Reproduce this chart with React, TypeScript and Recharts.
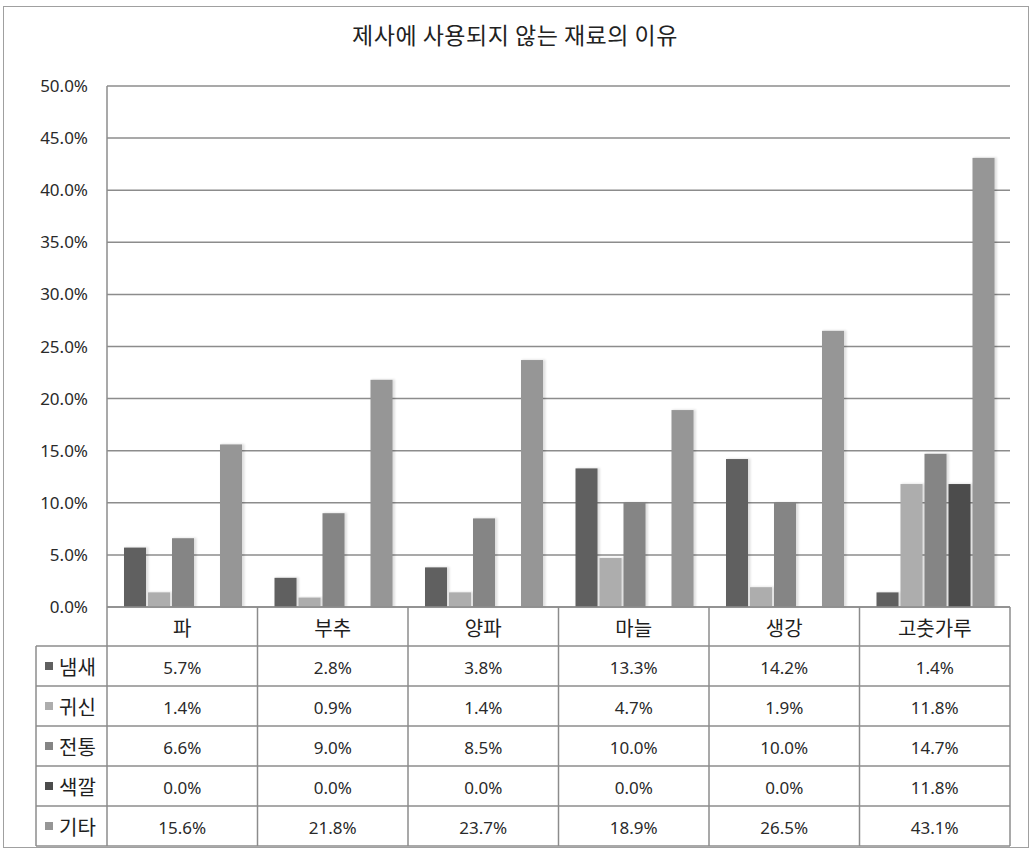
import React from 'react';
import { BarChart, Bar, XAxis, YAxis, CartesianGrid } from 'recharts';

const categories = ['파', '부추', '양파', '마늘', '생강', '고춧가루'];
const seriesNames = ['냄새', '귀신', '전통', '색깔', '기타'];
const smell = [5.7, 2.8, 3.8, 13.3, 14.2, 1.4];
const ghost = [1.4, 0.9, 1.4, 4.7, 1.9, 11.8];
const tradition = [6.6, 9.0, 8.5, 10.0, 10.0, 14.7];
const colour = [0.0, 0.0, 0.0, 0.0, 0.0, 11.8];
const other = [15.6, 21.8, 23.7, 18.9, 26.5, 43.1];
const yTicks = [0, 5, 10, 15, 20, 25, 30, 35, 40, 45, 50];
const seriesColors = ['#606060', '#adadad', '#858585', '#4c4c4c', '#969696'];
const title = '제사에 사용되지 않는 재료의 이유';

const seriesValues = [smell, ghost, tradition, colour, other];

const data = categories.map((c, i) => {
  const row: Record<string, string | number> = { name: c };
  seriesNames.forEach((s, k) => {
    row[s] = seriesValues[k][i];
  });
  return row;
});

const W = 1033;
const H = 850;
const PLOT_LEFT = 107;
const PLOT_RIGHT = 1010;
const PLOT_TOP = 86;
const PLOT_BOTTOM = 607;
const CAT_ROW_H = 39;
const ROW_H = 40;
const LEGEND_LEFT = 36;
const LINE = '#8c8c8c';
const KFONT = '"Noto Sans CJK KR", "Noto Sans", sans-serif';
const NFONT = '"Noto Sans", "DejaVu Sans", sans-serif';

const fmt = (v: number) => `${v.toFixed(1)}%`;

const CategoryTick = (props: any) => {
  const { x, y, payload } = props;
  const index: number = props.index ?? payload?.index ?? 0;
  const bw = (PLOT_RIGHT - PLOT_LEFT) / categories.length;
  const left = x - bw / 2;
  const right = x + bw / 2;
  const catBottom = y + CAT_ROW_H;
  const tableBottom = catBottom + ROW_H * seriesNames.length;
  const tableRight = left + bw * categories.length;
  return (
    <g>
      <text
        x={x}
        y={y + CAT_ROW_H / 2 + 1}
        textAnchor="middle"
        dominantBaseline="central"
        fontSize={20}
        fontFamily={KFONT}
        fill="#1e1e1e"
      >
        {payload.value}
      </text>
      {seriesNames.map((s, k) => (
        <text
          key={s}
          x={x}
          y={catBottom + ROW_H * (k + 0.5) + 1}
          textAnchor="middle"
          dominantBaseline="central"
          fontSize={17}
          fontFamily={NFONT}
          fill="#2a2a2a"
        >
          {fmt(seriesValues[k][index])}
        </text>
      ))}
      <line x1={right} x2={right} y1={y} y2={tableBottom} stroke={LINE} strokeWidth={1.5} />
      {index === 0 && (
        <g>
          <line x1={left} x2={left} y1={y} y2={tableBottom} stroke={LINE} strokeWidth={1.5} />
          <line x1={LEGEND_LEFT} x2={LEGEND_LEFT} y1={catBottom} y2={tableBottom} stroke={LINE} strokeWidth={1.5} />
          {Array.from({ length: seriesNames.length + 1 }).map((_, k) => (
            <line
              key={k}
              x1={LEGEND_LEFT}
              x2={tableRight}
              y1={catBottom + ROW_H * k}
              y2={catBottom + ROW_H * k}
              stroke={LINE}
              strokeWidth={1.5}
            />
          ))}
          {seriesNames.map((s, k) => (
            <g key={s}>
              <rect
                x={LEGEND_LEFT + 9}
                y={catBottom + ROW_H * (k + 0.5) - 4}
                width={8}
                height={8}
                fill={seriesColors[k]}
              />
              <text
                x={LEGEND_LEFT + 23}
                y={catBottom + ROW_H * (k + 0.5)}
                dominantBaseline="central"
                fontSize={20}
                fontFamily={KFONT}
                fill="#1e1e1e"
              >
                {s}
              </text>
            </g>
          ))}
        </g>
      )}
    </g>
  );
};

const ShadowBar = (props: any) => {
  const { x, y, width, height, fill } = props;
  if (!height || height <= 0) return null;
  return (
    <g>
      <rect x={x + 1} y={y - 0.5} width={width + 1.5} height={height + 0.5} fill="#000" opacity={0.12} filter="url(#barBlur)" />
      <rect x={x} y={y} width={width} height={height} fill={fill} />
    </g>
  );
};

export default function App() {
  return (
    <div style={{ position: 'absolute', left: 0, top: 0, width: W, height: H, background: '#fff' }}>
      <svg width={0} height={0} style={{ position: 'absolute' }}>
        <defs>
          <filter id="barBlur" x="-50%" y="-10%" width="200%" height="120%">
            <feGaussianBlur stdDeviation="1.2" />
          </filter>
        </defs>
      </svg>
      <div
        style={{
          position: 'absolute',
          left: 3,
          top: 6,
          width: 1026,
          height: 842,
          border: '1px solid #a0a0a0',
          boxSizing: 'border-box',
        }}
      />
      <div
        style={{
          position: 'absolute',
          left: 0,
          top: 20,
          width: 1030,
          textAlign: 'center',
          fontFamily: KFONT,
          fontSize: 23,
          lineHeight: '28px',
          letterSpacing: '0.5px',
          color: '#222',
        }}
      >
        {title}
      </div>
      <div style={{ position: 'absolute', left: 0, top: 0 }}>
        <BarChart
          width={W}
          height={H}
          data={data}
          margin={{ top: PLOT_TOP, right: W - PLOT_RIGHT, bottom: 0, left: PLOT_LEFT - 74 }}
          barCategoryGap="11.3%"
          barGap={2}
        >
          <CartesianGrid vertical={false} horizontal stroke={LINE} strokeWidth={1.5} />
          <XAxis
            dataKey="name"
            height={H - PLOT_BOTTOM}
            interval={0}
            tickSize={0}
            tickMargin={0}
            tickLine={false}
            axisLine={{ stroke: LINE, strokeWidth: 1.5 }}
            tick={<CategoryTick />}
          />
          <YAxis
            width={74}
            domain={[0, 50]}
            ticks={yTicks}
            interval={0}
            tickSize={0}
            tickMargin={19}
            tickLine={false}
            axisLine={{ stroke: LINE, strokeWidth: 1.5 }}
            tickFormatter={(v: number) => fmt(v)}
            tick={{ fontSize: 17, fontFamily: NFONT, fill: '#2a2a2a' }}
          />
          {seriesNames.map((s, k) => (
            <Bar key={s} dataKey={s} fill={seriesColors[k]} isAnimationActive={false} shape={<ShadowBar />} />
          ))}
        </BarChart>
      </div>
    </div>
  );
}
